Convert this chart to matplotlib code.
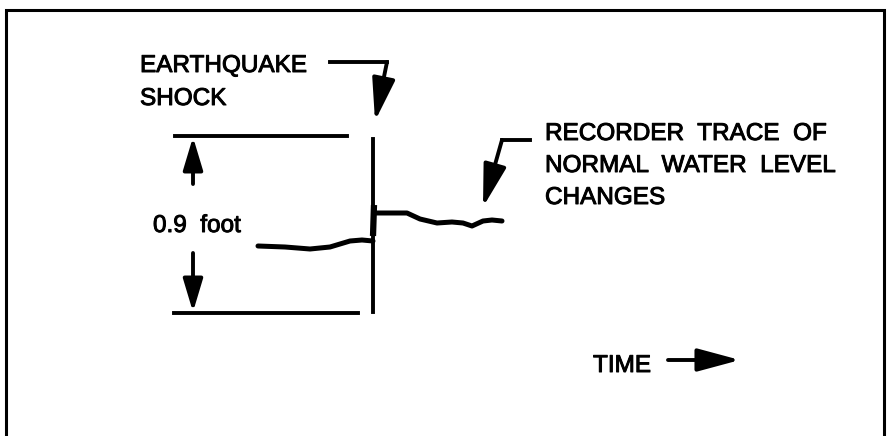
import matplotlib
matplotlib.use('Agg')
import matplotlib.pyplot as plt
import matplotlib.patheffects as pe

# diagram is laid out in picture pixels (y grows downward)
W, H = 889, 436

# recorder trace, before and after the shock
before_x = [258, 285, 310, 330, 350, 362, 373]
before_y = [246, 247, 249, 247, 241, 240, 241]
after_x = [375, 395, 407, 420, 437, 452, 463, 472, 483, 492, 502]
after_y = [213, 213, 213, 219, 223, 222, 223, 226, 221, 220, 221]

shock_x = 373
shock_top, shock_bottom = 139, 312

level_high, level_low = 136, 313
dim_x = 193

labels = [
    ('EARTHQUAKE', 140, 72),
    ('SHOCK', 140, 105),
    ('RECORDER  TRACE  OF', 545, 140),
    ('NORMAL  WATER  LEVEL', 545, 172),
    ('CHANGES', 545, 204),
    ('TIME', 593, 372),
    ('0.9  foot', 153, 232),
]

quake_arrow = [(330, 62), (387, 62), (375, 121)]
recorder_arrow = [(530, 140), (502, 140), (483, 207)]
time_arrow = [(668, 360), (740, 360)]

fig = plt.figure(figsize=(W / 100, H / 100), dpi=100)
ax = fig.add_axes([0, 0, 1, 1])
ax.set_xlim(0, W)
ax.set_ylim(H, 0)
ax.axis('off')

lw = 2.8
k = 'black'

# frame, open at the bottom
ax.plot([6, 6, 884, 884], [H + 5, 10, 10, H + 5], color=k, lw=2.2, solid_joinstyle='miter')

# level lines
ax.plot([175, 347], [level_high, level_high], color=k, lw=lw)
ax.plot([174, 358], [level_low, level_low], color=k, lw=lw)

# shock line and trace
ax.plot([shock_x, shock_x], [shock_top, shock_bottom], color=k, lw=lw)
ax.plot([shock_x, shock_x + 1], [236, 205], color=k, lw=4.5, solid_capstyle='butt')
ax.plot(before_x, before_y, color=k, lw=3.6, solid_capstyle='round')
ax.plot(after_x, after_y, color=k, lw=3.6, solid_capstyle='round')


def bent_arrow(pts):
    xs = [p[0] for p in pts]
    ys = [p[1] for p in pts]
    ax.plot(xs[:-1], ys[:-1], color=k, lw=lw, solid_joinstyle='miter')
    ax.annotate('', xy=pts[-1], xytext=pts[-2],
                arrowprops=dict(arrowstyle='-|>,head_length=1.3,head_width=0.35',
                                color=k, lw=lw, shrinkA=0, shrinkB=0,
                                mutation_scale=20))


bent_arrow(quake_arrow)
bent_arrow(recorder_arrow)
bent_arrow(time_arrow)

# dimension arrows
ax.annotate('', xy=(dim_x, level_high + 1), xytext=(dim_x, 184),
            arrowprops=dict(arrowstyle='-|>,head_length=1.0,head_width=0.3',
                            color=k, lw=lw, shrinkA=0, shrinkB=0, mutation_scale=20))
ax.annotate('', xy=(dim_x, level_low - 1), xytext=(dim_x, 253),
            arrowprops=dict(arrowstyle='-|>,head_length=1.0,head_width=0.3',
                            color=k, lw=lw, shrinkA=0, shrinkB=0, mutation_scale=20))

heavy = [pe.withStroke(linewidth=0.7, foreground=k)]
for txt, x, y in labels:
    ax.text(x, y, txt, fontsize=17.5, family='Liberation Sans',
            ha='left', va='baseline', path_effects=heavy)

fig.savefig('out.png', dpi=100)
